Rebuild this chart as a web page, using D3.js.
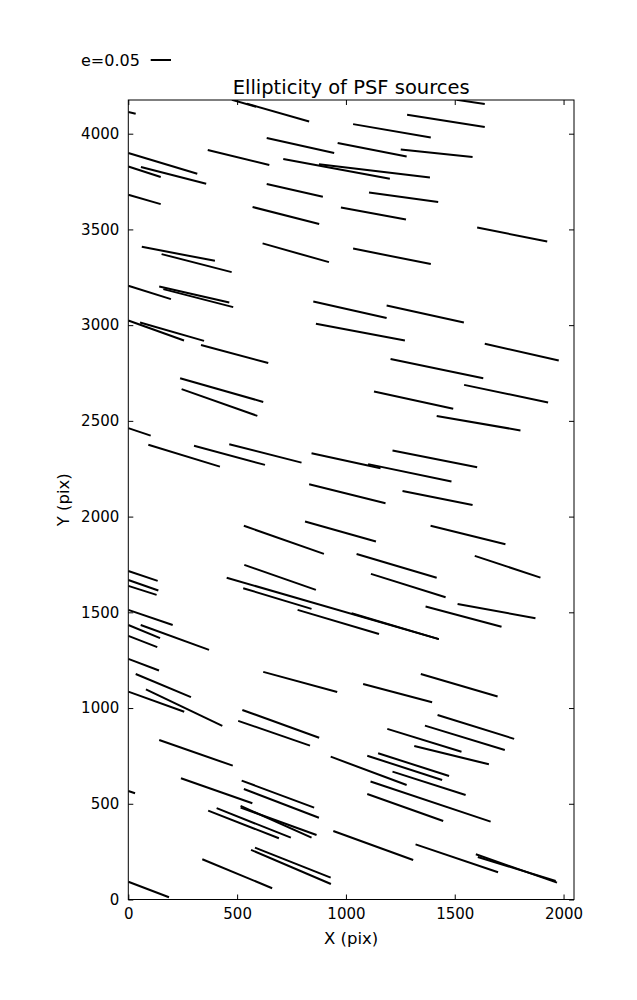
<!DOCTYPE html>
<html><head><meta charset="utf-8">
<script src="https://cdn.jsdelivr.net/npm/d3@7"></script>
<style>body{margin:0;background:#fff;} text{font-family:"DejaVu Sans",sans-serif;fill:#000;}</style>
</head><body>
<script>
// Whisker endpoints in pixel-detector coordinates (X, Y in pix)
const x0 = [476,545,0,636,962,0,365,712,876,0,58,636,0,571,977,1508,1281,1033,1252,1106,1603,1033,62,153,617,
  0,142,161,850,1187,0,54,862,334,1638,1205,238,245,1543,1129,1417,
  0,92,302,464,842,1102,1214,831,1260,812,531,1389,1049,1592,
  0,0,0,533,452,1026,778,528,1115,1366,1513,0,57,0,0,0,34,620,1344,1079,0,81,524,505,1421,1363,1190,
  142,1314,930,1098,1148,1214,1113,1098,242,0,521,531,942,367,406,516,516,582,564,340,0,1320,1597,1606];
const y0 = [4177,4157,4113,3977,3951,3899,3915,3868,3840,3829,3826,3737,3681,3617,3615,4177,4099,4050,3918,3693,3510,3400,3409,3371,3427,
  3206,3202,3188,3124,3103,3024,3014,3007,2896,2903,2823,2723,2666,2688,2653,2526,
  2462,2375,2370,2378,2331,2274,2345,2169,2134,1974,1952,1952,1805,1795,
  1716,1669,1638,1748,1681,1495,1513,1626,1701,1530,1544,1513,1434,1434,1377,1257,1178,1189,1178,1126,1086,1098,990,933,964,908,891,
  833,802,746,751,764,668,616,551,633,567,621,577,358,464,477,489,480,271,259,210,93,288,236,222];
const x1 = [587,831,34,946,1279,317,648,1202,1386,149,358,894,149,877,1276,1638,1638,1390,1582,1424,1925,1390,398,475,922,
  196,464,482,1187,1542,256,348,1271,643,1978,1631,620,593,1929,1493,1802,
  103,421,628,796,1159,1485,1603,1182,1582,1138,899,1733,1417,1894,
  135,138,130,862,1427,1427,1152,842,1458,1715,1871,204,371,146,133,141,288,960,1697,1396,257,432,877,835,1773,1730,1531,
  480,1657,1279,1442,1474,1550,1665,1447,570,31,854,876,1309,692,747,842,865,930,931,661,187,1699,1970,1964];
const y1 = [4141,4064,4104,3899,3881,3791,3836,3765,3771,3774,3739,3671,3632,3528,3552,4155,4035,3980,3878,3643,3437,3319,3336,3277,3329,
  3136,3118,3094,3037,3014,2920,2918,2920,2802,2815,2723,2599,2526,2596,2563,2450,
  2423,2261,2270,2282,2253,2183,2258,2070,2061,1870,1805,1856,1681,1681,
  1664,1614,1591,1617,1360,1360,1387,1518,1579,1425,1469,1434,1304,1365,1318,1196,1057,1084,1060,1030,981,907,845,804,839,781,772,
  699,706,598,624,645,546,407,410,503,555,480,427,206,320,323,323,337,114,81,59,12,142,88,97];

const xTicks = [0,500,1000,1500,2000];
const yTicks = [0,500,1000,1500,2000,2500,3000,3500,4000];
const legendE = [0.05];

const W = 637, H = 1000;
const L = 128.3, R = 574, T = 100, B = 899.5;
const svg = d3.select("body").append("svg").attr("width", W).attr("height", H);

const x = d3.scaleLinear().domain([0, 2048]).range([L, R]);
const y = d3.scaleLinear().domain([0, 4176]).range([B, T]);
const eLen = d3.scaleLinear().domain([0, 0.05]).range([0, 20.3]);

svg.append("defs").append("clipPath").attr("id", "clip")
  .append("rect").attr("x", L).attr("y", T).attr("width", R - L).attr("height", B - T);

const g = svg.append("g").attr("clip-path", "url(#clip)");
g.selectAll("line.w").data(d3.range(x0.length)).join("line")
  .attr("class", "w")
  .attr("x1", i => x(x0[i])).attr("y1", i => y(y0[i]))
  .attr("x2", i => x(x1[i])).attr("y2", i => y(y1[i]))
  .attr("stroke", "#000").attr("stroke-width", 2);

// axes
const fs = "15px";
const ax = svg.append("g").attr("transform", `translate(0,${B})`)
  .call(d3.axisBottom(x).tickValues(xTicks).tickSize(-5).tickPadding(9).tickFormat(d3.format("d")));
const axT = svg.append("g").attr("transform", `translate(0,${T})`)
  .call(d3.axisTop(x).tickValues(xTicks).tickSize(-5).tickFormat(""));
const ay = svg.append("g").attr("transform", `translate(${L},0)`)
  .call(d3.axisLeft(y).tickValues(yTicks).tickSize(-5).tickPadding(9).tickFormat(d3.format("d")));
const ayR = svg.append("g").attr("transform", `translate(${R},0)`)
  .call(d3.axisRight(y).tickValues(yTicks).tickSize(-5).tickFormat(""));
[ax, axT, ay, ayR].forEach(a => {
  a.select(".domain").remove();
  a.selectAll(".tick line").attr("stroke", "#000").attr("stroke-width", 1);
  a.selectAll("text").style("font-size", fs).attr("font-family", "DejaVu Sans");
});

svg.append("rect").attr("x", L).attr("y", T).attr("width", R - L).attr("height", B - T)
  .attr("fill", "none").attr("stroke", "#000").attr("stroke-width", 1);

svg.append("text").attr("x", (L + R) / 2).attr("y", 94).attr("text-anchor", "middle")
  .style("font-size", "19.5px").text("Ellipticity of PSF sources");
svg.append("text").attr("x", (L + R) / 2).attr("y", 944).attr("text-anchor", "middle")
  .style("font-size", "16.5px").text("X (pix)");
svg.append("text").attr("transform", `translate(69,${(T + B) / 2}) rotate(-90)`).attr("text-anchor", "middle")
  .style("font-size", "16.5px").text("Y (pix)");

// legend
svg.append("text").attr("x", 81).attr("y", 66).style("font-size", "16px").text("e=" + legendE[0].toFixed(2));
svg.append("line").attr("x1", 150.7).attr("x2", 150.7 + eLen(legendE[0])).attr("y1", 60).attr("y2", 60)
  .attr("stroke", "#000").attr("stroke-width", 2);
</script>
</body></html>
